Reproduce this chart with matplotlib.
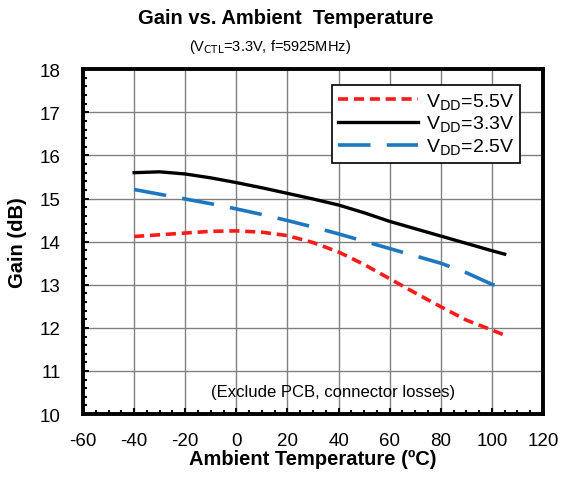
import matplotlib
matplotlib.use("Agg")
import matplotlib.pyplot as plt
from matplotlib.ticker import MultipleLocator

plt.rcParams['font.family'] = ['Liberation Sans', 'DejaVu Sans']
plt.rcParams['axes.unicode_minus'] = False

temp = [-40, -30, -20, -10, 0, 10, 20, 30, 40, 50, 60, 70, 80, 90, 100, 105]
gain_55 = [14.12, 14.16, 14.20, 14.24, 14.25, 14.22, 14.14, 13.98, 13.76, 13.47, 13.14, 12.81, 12.49, 12.18, 11.95, 11.83]
gain_33 = [15.60, 15.62, 15.57, 15.48, 15.37, 15.25, 15.12, 14.99, 14.85, 14.67, 14.47, 14.30, 14.13, 13.96, 13.79, 13.71]
gain_25 = [15.21, 15.10, 14.99, 14.88, 14.76, 14.63, 14.49, 14.34, 14.18, 14.01, 13.84, 13.67, 13.50, 13.28, 13.01, 12.93]
labels = [r'V$_{\rm DD}$=5.5V', r'V$_{\rm DD}$=3.3V', r'V$_{\rm DD}$=2.5V']

fig = plt.figure(figsize=(5.61, 4.81), dpi=100)
ax = fig.add_axes([0.148, 0.137, 0.820, 0.717])

ax.plot(temp, gain_55, color='#ff1a1a', lw=2.6, linestyle=(0, (2.8, 1.6)), label=labels[0])
ax.plot(temp, gain_33, color='black', lw=2.4, linestyle='-', label=labels[1])
ax.plot(temp, gain_25, color='#1f77c0', lw=2.6, linestyle=(0, (9, 4.5)), label=labels[2])

ax.set_xlim(-60, 120)
ax.set_ylim(10, 18)
ax.xaxis.set_major_locator(MultipleLocator(20))
ax.xaxis.set_minor_locator(MultipleLocator(5))
ax.yaxis.set_major_locator(MultipleLocator(1))
ax.yaxis.set_minor_locator(MultipleLocator(0.2))
ax.grid(True, which='major', color='#808080', lw=1.0)
ax.tick_params(which='both', direction='in', labelsize=13.5)
ax.tick_params(axis='x', pad=13)
ax.tick_params(axis='y', pad=16)
ax.tick_params(which='major', length=4, width=1.5)
ax.tick_params(which='minor', length=3, width=1.5)
for s in ax.spines.values():
    s.set_linewidth(2.8)

ax.set_xlabel('Ambient Temperature (ºC)', fontsize=14.5, fontweight='bold', labelpad=0)
ax.set_ylabel('Gain (dB)', fontsize=14.5, fontweight='bold', labelpad=9)

fig.text(0.51, 0.962, 'Gain vs. Ambient  Temperature', ha='center', va='center',
         fontsize=14.5, fontweight='bold')
fig.text(0.482, 0.902, r'(V$_{\rm CTL}$=3.3V, f=5925MHz)', ha='center', va='center', fontsize=10.5)
ax.text(38, 10.52, '(Exclude PCB, connector losses)', ha='center', va='center', fontsize=12)

leg = ax.legend(loc='upper right', bbox_to_anchor=(0.949, 0.953), fontsize=14,
                frameon=True, fancybox=False, edgecolor='black', framealpha=1,
                handlelength=4.1, handletextpad=0.4, borderpad=0.3, labelspacing=0.12,
                borderaxespad=0)
leg.get_frame().set_linewidth(1.2)

fig.savefig('out.png', dpi=100)
